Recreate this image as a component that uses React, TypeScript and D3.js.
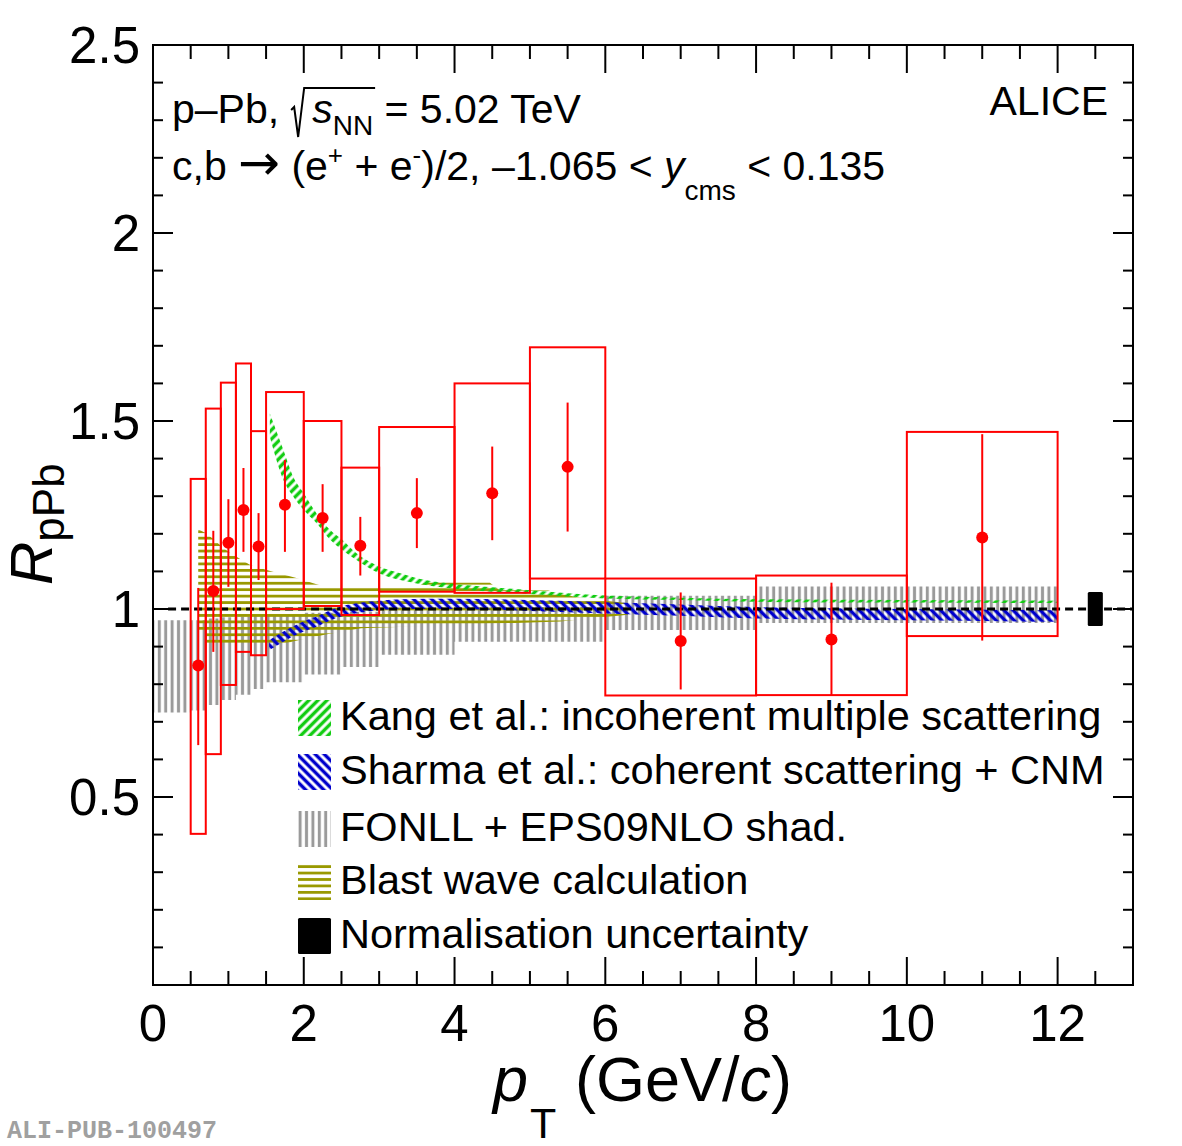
import { useLayoutEffect, useRef, useState } from 'react';
import * as d3 from 'd3';

const W = 1182;
const H = 1146;
const frame = { left: 153, right: 1133, top: 45, bottom: 985 };
const FONT = '"Liberation Sans", Arial, Helvetica, sans-serif';

// ALICE data: heavy-flavour electron R_pPb
const binLo = [0.5, 0.7, 0.9, 1.1, 1.3, 1.5, 2, 2.5, 3, 4, 5, 6, 8, 10];
const binHi = [0.7, 0.9, 1.1, 1.3, 1.5, 2, 2.5, 3, 4, 5, 6, 8, 10, 12];
const ptCenter = [0.6, 0.8, 1.0, 1.2, 1.4, 1.75, 2.25, 2.75, 3.5, 4.5, 5.5, 7, 9, 11];
const rpPb = [0.85, 1.048, 1.176, 1.263, 1.166, 1.277, 1.242, 1.168, 1.255, 1.308, 1.378, 0.915, 0.919, 1.19];
const statLo = [0.638, 0.886, 1.059, 1.152, 1.077, 1.152, 1.152, 1.089, 1.162, 1.183, 1.206, 0.786, 0.771, 0.916];
const statHi = [1.056, 1.208, 1.292, 1.375, 1.255, 1.396, 1.332, 1.245, 1.348, 1.432, 1.549, 1.044, 1.07, 1.465];
const systLo = [0.402, 0.614, 0.798, 0.886, 0.877, 1.0, 1.008, 0.984, 1.046, 1.043, 1.081, 0.77, 0.771, 0.928];
const systHi = [1.346, 1.533, 1.602, 1.653, 1.473, 1.577, 1.5, 1.376, 1.484, 1.6, 1.696, 1.081, 1.089, 1.471];

// Kang et al. band
const kangPt = [1.55, 1.73, 1.86, 2.0, 2.17, 2.35, 2.51, 2.7, 3.0, 3.28, 3.5, 3.94, 4.5, 5.0, 5.5, 6.0, 7.0, 8.0, 10, 12];
const kangHi = [1.52, 1.423, 1.352, 1.308, 1.254, 1.21, 1.184, 1.148, 1.113, 1.095, 1.082, 1.068, 1.058, 1.05, 1.042, 1.036, 1.03, 1.026, 1.024, 1.022];
const kangLo = [1.458, 1.343, 1.299, 1.263, 1.228, 1.184, 1.157, 1.13, 1.095, 1.077, 1.068, 1.055, 1.046, 1.04, 1.033, 1.028, 1.024, 1.019, 1.017, 1.016];

// Sharma et al. band
const sharmaPt = [1.54, 1.73, 1.95, 2.17, 2.43, 2.7, 3.0, 3.3, 4.0, 5.0, 6.0, 7.0, 8.0, 10, 12];
const sharmaHi = [0.917, 0.94, 0.963, 0.98, 1.003, 1.015, 1.022, 1.026, 1.027, 1.024, 1.018, 1.012, 1.005, 1.0, 0.997];
const sharmaLo = [0.89, 0.913, 0.936, 0.953, 0.976, 0.989, 0.997, 1.0, 1.0, 0.995, 0.988, 0.982, 0.975, 0.97, 0.966];

// FONLL + EPS09NLO, per bin
const fonllEdges = [0, 0.5, 0.7, 0.9, 1.1, 1.3, 1.5, 2, 2.5, 3, 4, 6, 8, 10, 12];
const fonllLo = [0.725, 0.73, 0.745, 0.758, 0.772, 0.787, 0.805, 0.826, 0.846, 0.878, 0.913, 0.944, 0.963, 0.963];
const fonllHi = [0.97, 0.97, 0.975, 0.978, 0.98, 0.982, 0.985, 0.99, 0.993, 0.998, 1.005, 1.035, 1.06, 1.06];

// Blast wave envelope
const blastUpPt = [0.6, 0.69, 0.8, 0.9, 1.0, 1.14, 1.29, 1.59, 1.89, 2.17, 2.3, 3.5, 3.6, 4.47, 4.6, 5.24, 5.62, 6.3];
const blastUp = [1.212, 1.203, 1.186, 1.168, 1.152, 1.135, 1.117, 1.099, 1.083, 1.066, 1.058, 1.058, 1.07, 1.07, 1.05, 1.049, 1.031, 1.015];
const blastLowPt = [0.6, 0.69, 0.7, 1.75, 1.88, 2.29, 2.76, 5.4, 6.3];
const blastLow = [0.942, 0.94, 0.908, 0.908, 0.915, 0.932, 0.949, 0.967, 0.985];

const normPt = [12.4, 12.6];
const normUnc = 0.045;

const xTicksMajor = [0, 2, 4, 6, 8, 10, 12];
const yTicksMajor = [0.5, 1, 1.5, 2, 2.5];

const legendItems = [
  { label: 'Kang et al.: incoherent multiple scattering', fill: 'url(#hatchGreen)' },
  { label: 'Sharma et al.: coherent scattering + CNM', fill: 'url(#hatchBlue)' },
  { label: 'FONLL + EPS09NLO shad.', fill: 'url(#hatchGray)' },
  { label: 'Blast wave calculation', fill: 'url(#hatchOlive)' },
  { label: 'Normalisation uncertainty', fill: '#000' },
];

const x = d3.scaleLinear().domain([0, 13]).range([frame.left, frame.right]);
const y = d3.scaleLinear().domain([0, 2.5]).range([frame.bottom, frame.top]);

type Band = { pt: number; lo: number; hi: number };

const bandArea = d3.area<Band>()
  .x(d => x(d.pt))
  .y0(d => y(d.lo))
  .y1(d => y(d.hi))
  .curve(d3.curveMonotoneX);

const stepArea = d3.area<Band>()
  .x(d => x(d.pt))
  .y0(d => y(d.lo))
  .y1(d => y(d.hi))
  .curve(d3.curveStepAfter);

const polyLine = d3.line<[number, number]>()
  .x(d => x(d[0]))
  .y(d => y(d[1]));

export default function App() {
  const line1Ref = useRef<SVGTextElement>(null);
  const [rad, setRad] = useState<{ s: number; e: number } | null>(null);

  useLayoutEffect(() => {
    const t = line1Ref.current;
    if (!t) return;
    // "p–Pb," is 5 chars, then s, N, N
    setRad({ s: t.getStartPositionOfChar(5).x, e: t.getEndPositionOfChar(7).x });
  }, []);

  const kang: Band[] = kangPt.map((pt, i) => ({ pt, lo: kangLo[i], hi: kangHi[i] }));
  const sharma: Band[] = sharmaPt.map((pt, i) => ({ pt, lo: sharmaLo[i], hi: sharmaHi[i] }));
  const fonll: Band[] = fonllLo.map((lo, i) => ({ pt: fonllEdges[i], lo, hi: fonllHi[i] }));
  fonll.push({ pt: fonllEdges[fonllEdges.length - 1], lo: fonllLo[fonllLo.length - 1], hi: fonllHi[fonllHi.length - 1] });

  const blastPoly: [number, number][] = [
    ...blastUpPt.map((p, i) => [p, blastUp[i]] as [number, number]),
    ...blastLowPt.map((p, i) => [p, blastLow[i]] as [number, number]).reverse(),
  ];

  const xMinor = d3.range(0.5, 13, 0.5).filter(v => v % 2 !== 0);
  const yMinor = d3.range(1, 25).map(v => v / 10).filter(v => Math.round(v * 10) % 5 !== 0);

  const lineY0 = 123;
  const legX = 340;
  const legY = [730, 784, 841, 894, 948];

  return (
    <svg width={W} height={H} style={{ position: 'absolute', left: 0, top: 0, background: '#fff' }} fontFamily={FONT}>
      <defs>
        <pattern id="hatchGray" patternUnits="userSpaceOnUse" x={156.1} y={0} width={6.4} height={10}>
          <rect x={1.7} y={0} width={3} height={10} fill="#9a9a9a" />
        </pattern>
        <pattern id="hatchOlive" patternUnits="userSpaceOnUse" x={0} y={y(1) - 3.22} width={10} height={6.44}>
          <rect x={0} y={1.82} width={10} height={2.8} fill="#999900" />
        </pattern>
        <pattern id="hatchGreen" patternUnits="userSpaceOnUse" width={6.4} height={10} patternTransform="rotate(45)">
          <rect x={1.5} y={0} width={3.4} height={10} fill="#11cc11" />
        </pattern>
        <pattern id="hatchBlue" patternUnits="userSpaceOnUse" width={6.4} height={10} patternTransform="rotate(-45)">
          <rect x={1.5} y={0} width={3.4} height={10} fill="#0000cc" />
        </pattern>
      </defs>

      {/* model bands */}
      <path d={stepArea(fonll) ?? ''} fill="url(#hatchGray)" />
      <path d={(polyLine(blastPoly) ?? '') + 'Z'} fill="url(#hatchOlive)" />
      <path d={bandArea(kang) ?? ''} fill="url(#hatchGreen)" />
      <path d={bandArea(sharma) ?? ''} fill="url(#hatchBlue)" />

      {/* unity line */}
      <line x1={x(0.2)} x2={frame.right} y1={y(1)} y2={y(1)} stroke="#000" strokeWidth={3} strokeDasharray="8,5" />

      {/* systematic boxes */}
      {binLo.map((lo, i) => (
        <rect key={'s' + i} x={x(lo)} y={y(systHi[i])} width={x(binHi[i]) - x(lo)} height={y(systLo[i]) - y(systHi[i])}
          fill="none" stroke="#ff0000" strokeWidth={2} />
      ))}
      {ptCenter.map((pt, i) => (
        <line key={'e' + i} x1={x(pt)} x2={x(pt)} y1={y(statLo[i])} y2={y(statHi[i])} stroke="#ff0000" strokeWidth={2} />
      ))}
      {ptCenter.map((pt, i) => (
        <circle key={'p' + i} cx={x(pt)} cy={y(rpPb[i])} r={6} fill="#ff0000" />
      ))}

      {/* normalisation */}
      <rect x={x(normPt[0])} y={y(1 + normUnc)} width={x(normPt[1]) - x(normPt[0])} height={y(1 - normUnc) - y(1 + normUnc)} rx={1.5} fill="#000" />

      {/* frame and ticks */}
      <rect x={frame.left} y={frame.top} width={frame.right - frame.left} height={frame.bottom - frame.top} fill="none" stroke="#000" strokeWidth={2} />
      {xTicksMajor.filter(v => v > 0).map(v => (
        <g key={'xM' + v}>
          <line x1={x(v)} x2={x(v)} y1={frame.bottom} y2={frame.bottom - 28} stroke="#000" strokeWidth={2} />
          <line x1={x(v)} x2={x(v)} y1={frame.top} y2={frame.top + 28} stroke="#000" strokeWidth={2} />
        </g>
      ))}
      {xMinor.map(v => (
        <g key={'xm' + v}>
          <line x1={x(v)} x2={x(v)} y1={frame.bottom} y2={frame.bottom - 14} stroke="#000" strokeWidth={2} />
          <line x1={x(v)} x2={x(v)} y1={frame.top} y2={frame.top + 14} stroke="#000" strokeWidth={2} />
        </g>
      ))}
      {yTicksMajor.filter(v => v < 2.5).map(v => (
        <g key={'yM' + v}>
          <line x1={frame.left} x2={frame.left + 20} y1={y(v)} y2={y(v)} stroke="#000" strokeWidth={2} />
          <line x1={frame.right} x2={frame.right - 20} y1={y(v)} y2={y(v)} stroke="#000" strokeWidth={2} />
        </g>
      ))}
      {yMinor.map(v => (
        <g key={'ym' + v}>
          <line x1={frame.left} x2={frame.left + 10} y1={y(v)} y2={y(v)} stroke="#000" strokeWidth={2} />
          <line x1={frame.right} x2={frame.right - 10} y1={y(v)} y2={y(v)} stroke="#000" strokeWidth={2} />
        </g>
      ))}

      {/* tick labels */}
      {xTicksMajor.map(v => (
        <text key={'xl' + v} x={x(v)} y={1041} fontSize={51} textAnchor="middle">{v}</text>
      ))}
      {yTicksMajor.map(v => (
        <text key={'yl' + v} x={140} y={y(v) + 18} fontSize={51} textAnchor="end">{v}</text>
      ))}

      {/* axis titles */}
      <text x={493} y={1101} fontSize={63} fontStyle="italic">p</text>
      <text x={530} y={1138} fontSize={43}>T</text>
      <text x={575} y={1101} fontSize={63}>(GeV/<tspan fontStyle="italic">c</tspan>)</text>
      <text transform="translate(52,585) rotate(-90)">
        <tspan fontSize={60} fontStyle="italic">R</tspan>
        <tspan fontSize={44} dy={12}>pPb</tspan>
      </text>

      {/* header texts */}
      <text ref={line1Ref} x={172} y={lineY0} fontSize={41}>
        p–Pb,<tspan dx={33} fontStyle="italic">s</tspan>
        <tspan fontSize={28} dy={12}>NN</tspan>
        <tspan dy={-12}> = 5.02 TeV</tspan>
      </text>
      {rad && (
        <path
          d={`M${rad.s - 21},${lineY0 - 13} L${rad.s - 18},${lineY0 - 16} L${rad.s - 14},${lineY0 + 14} L${rad.s - 8},${lineY0 - 35} L${rad.e + 2},${lineY0 - 35}`}
          fill="none" stroke="#000" strokeWidth={2} />
      )}
      <text x={172} y={180} fontSize={41}>
        c,b <tspan fontFamily='"DejaVu Sans", sans-serif' fontSize={50}>→</tspan> (e<tspan fontSize={26} dy={-16}>+</tspan>
        <tspan dy={16}> + e</tspan>
        <tspan fontSize={26} dy={-16}>-</tspan>
        <tspan dy={16}>)/2, –1.065 &lt; </tspan>
        <tspan fontStyle="italic">y</tspan>
        <tspan fontSize={28} dy={20}>cms</tspan>
        <tspan dy={-20}> &lt; 0.135</tspan>
      </text>
      <text x={1108} y={115} fontSize={41} textAnchor="end">ALICE</text>

      {/* legend */}
      {legendItems.map((it, i) => (
        <g key={'lg' + i}>
          <rect x={298} y={legY[i] - 30} width={33} height={36} fill={it.fill} rx={i === 4 ? 1.5 : 0} />
          <text x={legX} y={legY[i]} fontSize={41.5}>{it.label}</text>
        </g>
      ))}

      <text x={7} y={1138} fontSize={25} fontWeight="bold" fontFamily='"Liberation Mono", "DejaVu Sans Mono", monospace' fill="#a0a0a0">ALI-PUB-100497</text>
    </svg>
  );
}
